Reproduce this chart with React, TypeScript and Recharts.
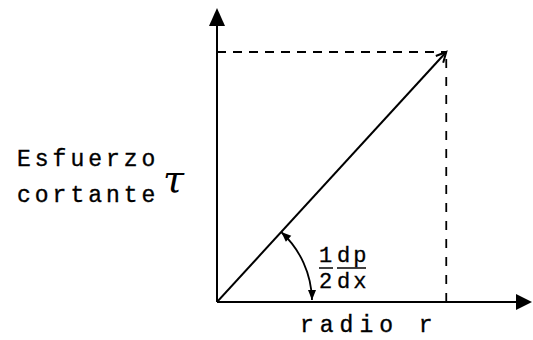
import React from "react";
import { ComposedChart, Line, XAxis, YAxis, ReferenceLine } from "recharts";

// Data (normalised units): shear stress grows linearly with radius
const radius = [0, 1];
const stress = [0, 1];
const rAxisMax = 1.374;
const tauAxisMax = 1.176;
const yLabelLines = ["Esfuerzo", "cortante"];
const yLabelSymbol = "τ";
const xLabel = "radio r";
const slopeNum = ["1", "dp"];
const slopeDen = ["2", "dx"];

const data = radius.map((r, i) => ({ r, tau: stress[i] }));

const MONO = "'Liberation Mono', 'DejaVu Sans Mono', monospace";
const INK = "#000";

const YAxisShape = (p: any) => {
  const { x1, y1, y2 } = p;
  const top = Math.min(y1, y2);
  const bottom = Math.max(y1, y2);
  return (
    <g>
      <line x1={x1} y1={bottom} x2={x1} y2={top + 14} stroke={INK} strokeWidth={2} />
      <polygon points={`${x1},${top} ${x1 - 8},${top + 18} ${x1 + 8},${top + 18}`} fill={INK} />
      <text x={x1 - 200} y={bottom - 136} fontFamily={MONO} fontSize={23} letterSpacing={4} fill={INK} stroke={INK} strokeWidth={0.35}>
        {yLabelLines[0]}
      </text>
      <text x={x1 - 200} y={bottom - 100} fontFamily={MONO} fontSize={23} letterSpacing={4} fill={INK} stroke={INK} strokeWidth={0.35}>
        {yLabelLines[1]}
      </text>
      <text x={x1 - 54} y={bottom - 110} fontFamily="'DejaVu Serif', serif" fontStyle="italic" fontSize={38} fill={INK}>
        {yLabelSymbol}
      </text>
    </g>
  );
};

const XAxisShape = (p: any) => {
  const { x1, y1, x2 } = p;
  const left = Math.min(x1, x2);
  const right = Math.max(x1, x2);
  return (
    <g>
      <line x1={left} y1={y1} x2={right - 12} y2={y1} stroke={INK} strokeWidth={2} />
      <polygon points={`${right},${y1} ${right - 16},${y1 - 8} ${right - 16},${y1 + 8}`} fill={INK} />
      <text x={left + 83} y={y1 + 30} fontFamily={MONO} fontSize={23} letterSpacing={6} fill={INK} stroke={INK} strokeWidth={0.35}>
        {xLabel}
      </text>
    </g>
  );
};

const AngleShape = (p: any) => {
  const { x1, y1, x2, y2 } = p;
  const ang = Math.atan2(y1 - y2, x2 - x1);
  const R = 95;
  const sx = x1 + R * Math.cos(ang);
  const sy = y1 - R * Math.sin(ang);
  const ex = x1 + R;
  const ey = y1 - 2;
  const head = (tx: number, ty: number, dx: number, dy: number, len = 10, w = 4) => {
    const n = Math.hypot(dx, dy);
    const ux = dx / n, uy = dy / n;
    const bx = tx - ux * len, by = ty - uy * len;
    return `${tx},${ty} ${bx - uy * w},${by + ux * w} ${bx + uy * w},${by - ux * w}`;
  };
  const tStart = { dx: -Math.sin(ang), dy: -Math.cos(ang) };
  const tEnd = { dx: 0, dy: 1 };
  const ldx = x2 - x1, ldy = y2 - y1;
  const ln = Math.hypot(ldx, ldy);
  const lux = ldx / ln, luy = ldy / ln;
  const hx = x2 - lux * 10, hy = y2 - luy * 10;
  const fx = ex + 7;
  const fs = 22;
  return (
    <g>
      <path d={`M ${sx} ${sy} A ${R} ${R} 0 0 1 ${ex} ${ey}`} fill="none" stroke={INK} strokeWidth={1.8} />
      <polygon points={head(sx, sy, tStart.dx, tStart.dy)} fill={INK} />
      <polygon points={head(ex, ey, tEnd.dx, tEnd.dy)} fill={INK} />
      <polyline
        points={`${hx - luy * 5},${hy + lux * 5} ${x2},${y2} ${hx + luy * 5},${hy - lux * 5}`}
        fill="none"
        stroke={INK}
        strokeWidth={2}
      />
      <text x={fx} y={y1 - 40} fontFamily={MONO} fontSize={fs} fill={INK} stroke={INK} strokeWidth={0.3}>{slopeNum[0]}</text>
      <text x={fx + 18} y={y1 - 40} fontFamily={MONO} fontSize={fs} letterSpacing={3} fill={INK} stroke={INK} strokeWidth={0.3}>{slopeNum[1]}</text>
      <line x1={fx} y1={y1 - 34} x2={fx + 14} y2={y1 - 34} stroke={INK} strokeWidth={1.5} />
      <line x1={fx + 18} y1={y1 - 34} x2={fx + 47} y2={y1 - 34} stroke={INK} strokeWidth={1.5} />
      <text x={fx} y={y1 - 14} fontFamily={MONO} fontSize={fs} fill={INK} stroke={INK} strokeWidth={0.3}>{slopeDen[0]}</text>
      <text x={fx + 18} y={y1 - 14} fontFamily={MONO} fontSize={fs} letterSpacing={3} fill={INK} stroke={INK} strokeWidth={0.3}>{slopeDen[1]}</text>
    </g>
  );
};

export default function App() {
  const last = data[data.length - 1];
  return (
    <div style={{ position: "absolute", left: 0, top: 0, width: 533, height: 340, background: "#fff" }}>
      <ComposedChart
        width={533}
        height={340}
        data={data}
        margin={{ top: 8, right: 1, bottom: 38, left: 217 }}
      >
        <XAxis type="number" dataKey="r" domain={[0, rAxisMax]} hide allowDataOverflow />
        <YAxis type="number" dataKey="tau" domain={[0, tauAxisMax]} hide allowDataOverflow />
        <ReferenceLine
          segment={[{ x: 0, y: last.tau }, { x: last.r, y: last.tau }]}
          stroke={INK}
          strokeWidth={1.8}
          strokeDasharray="9 7"
          ifOverflow="visible"
        />
        <ReferenceLine
          segment={[{ x: last.r, y: 0 }, { x: last.r, y: last.tau }]}
          stroke={INK}
          strokeWidth={1.8}
          strokeDasharray="9 9"
          ifOverflow="visible"
        />
        <Line
          type="linear"
          dataKey="tau"
          stroke={INK}
          strokeWidth={2}
          dot={false}
          isAnimationActive={false}
        />
        <ReferenceLine
          segment={[{ x: 0, y: 0 }, { x: last.r, y: last.tau }]}
          ifOverflow="visible"
          shape={AngleShape}
        />
        <ReferenceLine
          segment={[{ x: 0, y: 0 }, { x: 0, y: tauAxisMax }]}
          ifOverflow="visible"
          shape={YAxisShape}
        />
        <ReferenceLine
          segment={[{ x: 0, y: 0 }, { x: rAxisMax, y: 0 }]}
          ifOverflow="visible"
          shape={XAxisShape}
        />
      </ComposedChart>
    </div>
  );
}
